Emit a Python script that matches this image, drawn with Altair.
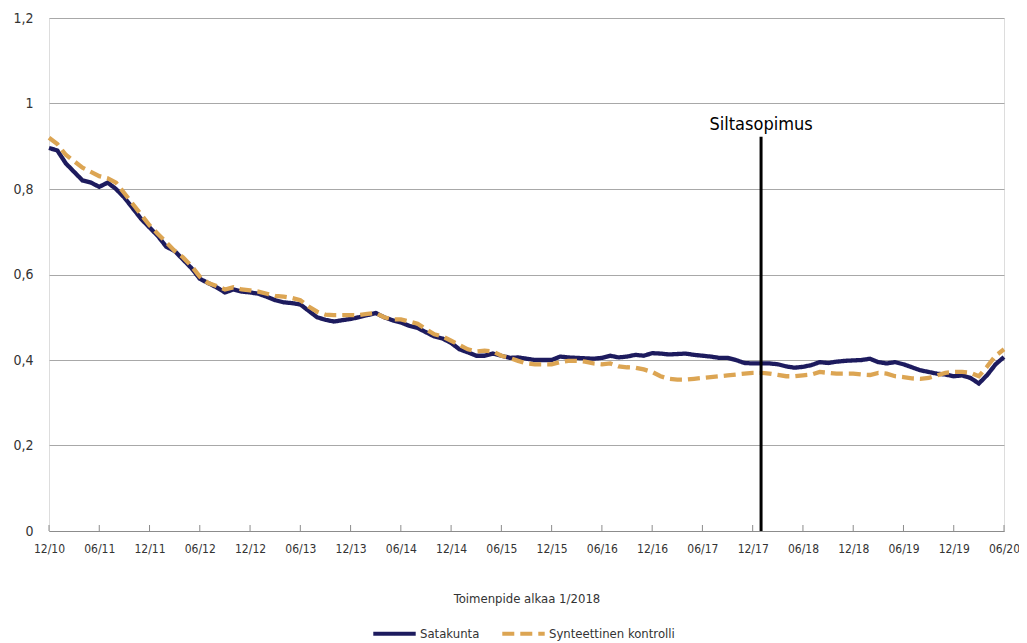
import altair as alt
import pandas as pd

# month index 0 = 12/2010 ... 114 = 06/2020
satakunta = [
    0.896, 0.89, 0.86, 0.84, 0.82, 0.815, 0.805, 0.815, 0.80, 0.78,
    0.755, 0.73, 0.71, 0.69, 0.665, 0.655, 0.635, 0.615, 0.59, 0.58,
    0.57, 0.558, 0.565, 0.56, 0.558, 0.555, 0.548, 0.54, 0.535, 0.533,
    0.53, 0.515, 0.50, 0.494, 0.49, 0.493, 0.496, 0.50, 0.505, 0.51,
    0.50, 0.493, 0.488, 0.48, 0.475, 0.465, 0.455, 0.45, 0.44, 0.425,
    0.418, 0.41, 0.41, 0.415, 0.41, 0.405, 0.406, 0.403, 0.40, 0.40,
    0.40, 0.408, 0.406, 0.405, 0.404, 0.403, 0.405, 0.41, 0.406, 0.408,
    0.412, 0.41, 0.416, 0.415, 0.413, 0.414, 0.415, 0.412, 0.41, 0.408,
    0.405, 0.405, 0.40, 0.393, 0.392, 0.392, 0.392, 0.39, 0.385, 0.382,
    0.384, 0.388, 0.395, 0.393, 0.396, 0.398, 0.399, 0.40, 0.403, 0.395,
    0.392, 0.395, 0.39, 0.383, 0.376, 0.372, 0.368, 0.366, 0.362, 0.364,
    0.358, 0.345, 0.365, 0.39, 0.407,
]
synteettinen = [
    0.92, 0.905, 0.88, 0.865, 0.85, 0.84, 0.83, 0.825, 0.815, 0.79,
    0.765, 0.74, 0.715, 0.695, 0.675, 0.655, 0.64, 0.62, 0.595, 0.58,
    0.573, 0.565, 0.57, 0.565, 0.563, 0.56, 0.555, 0.55, 0.548, 0.545,
    0.54, 0.525, 0.513, 0.506, 0.505, 0.505, 0.505, 0.505, 0.508, 0.51,
    0.50, 0.495, 0.495, 0.49, 0.485, 0.472, 0.46, 0.455, 0.445, 0.435,
    0.425, 0.42, 0.422, 0.42, 0.41, 0.405, 0.398, 0.392, 0.39, 0.39,
    0.39, 0.395, 0.398, 0.398, 0.396, 0.392, 0.39, 0.392, 0.385, 0.383,
    0.382, 0.378, 0.372, 0.362, 0.356, 0.354, 0.354, 0.356, 0.358, 0.36,
    0.362, 0.364, 0.366, 0.368, 0.37, 0.37, 0.368, 0.365, 0.362, 0.362,
    0.364, 0.366, 0.372, 0.37, 0.368, 0.368, 0.368, 0.366, 0.365, 0.37,
    0.368, 0.362, 0.36, 0.357, 0.356, 0.358, 0.364, 0.37, 0.372, 0.372,
    0.37, 0.362, 0.385, 0.41, 0.425,
]
tick_labels = ["12/10", "06/11", "12/11", "06/12", "12/12", "06/13", "12/13",
               "06/14", "12/14", "06/15", "12/15", "06/16", "12/16", "06/17",
               "12/17", "06/18", "12/18", "06/19", "12/19", "06/20"]
series_names = ["Satakunta", "Synteettinen kontrolli"]
event_month = [85]
event_label = ["Siltasopimus"]
event_top = [0.922]

rows = []
for i, v in enumerate(satakunta):
    rows.append({"m": i, "v": v, "s": series_names[0]})
for i, v in enumerate(synteettinen):
    rows.append({"m": i, "v": v, "s": series_names[1]})
df = pd.DataFrame(rows)
ticks_df = pd.DataFrame({"m": [i * 6 for i in range(len(tick_labels))]})
ev_df = pd.DataFrame({"m": event_month, "top": event_top, "label": event_label, "zero": [0]})

FONT = "DejaVu Sans Condensed, Liberation Sans, sans-serif"
W, H = 955, 513
label_expr = "[" + ",".join(f"'{l}'" for l in tick_labels) + "][round(datum.value/6)]"

xscale = alt.Scale(domain=[0, 114], nice=False, zero=False)
yscale = alt.Scale(domain=[0, 1.2], nice=False)

lines = alt.Chart(df).mark_line(strokeWidth=4.3, strokeCap="butt").encode(
    x=alt.X("m:Q", scale=xscale,
            axis=alt.Axis(values=[i * 6 for i in range(len(tick_labels))], labelExpr=label_expr,
                          title="Toimenpide alkaa 1/2018", grid=False, ticks=False,
                          labelFlush=False, labelOverlap=False,
                          domainColor="#8c8c8c", domainWidth=1.2,
                          labelFont=FONT, labelFontSize=12, labelColor="#333333",
                          labelPadding=12, titleFont=FONT, titleFontSize=13,
                          titleFontWeight="normal", titleColor="#333333", titlePadding=38)),
    y=alt.Y("v:Q", scale=yscale,
            axis=alt.Axis(values=[0, 0.2, 0.4, 0.6, 0.8, 1, 1.2],
                          labelExpr="replace(format(datum.value, '~g'), '.', ',')",
                          title=None, domain=False, ticks=False, gridColor="#a8a8a8",
                          gridWidth=1, labelFont=FONT, labelFontSize=14,
                          labelColor="#333333", labelPadding=16)),
    color=alt.Color("s:N", scale=alt.Scale(domain=series_names, range=["#1d1b5e", "#dca553"]),
                    legend=alt.Legend(title=None, orient="none", legendX=322, legendY=592,
                                      direction="horizontal", symbolType="stroke",
                                      symbolSize=1800, symbolStrokeWidth=4, padding=0,
                                      labelFont=FONT, labelFontSize=13, labelColor="#333333",
                                      labelOffset=2, columnPadding=14)),
    strokeDash=alt.StrokeDash("s:N", scale=alt.Scale(domain=series_names, range=[[1, 0], [12, 6]]),
                              legend=None),
    order=alt.Order("s:N"),
)

xticks = alt.Chart(ticks_df).mark_rule(color="#8c8c8c", strokeWidth=1).encode(
    x=alt.X("m:Q", scale=xscale),
    y=alt.value(H),
    y2=alt.value(H - 6),
)

event_rule = alt.Chart(ev_df).mark_rule(color="#000000", strokeWidth=3).encode(
    x=alt.X("m:Q", scale=xscale),
    y=alt.Y("zero:Q", scale=yscale),
    y2="top:Q",
)
event_text = alt.Chart(ev_df).mark_text(font=FONT, fontSize=18, color="#000000",
                                         baseline="bottom", dy=-3).encode(
    x=alt.X("m:Q", scale=xscale),
    y=alt.Y("top:Q", scale=yscale),
    text="label:N",
)

chart = alt.layer(xticks, lines, event_rule, event_text).properties(
    width=W, height=H,
    autosize=alt.AutoSizeParams(type="none"),
    padding={"left": 41, "top": 10, "right": 15, "bottom": 112},
).configure_view(stroke=None).configure(background="#ffffff")

chart.save("out.html", embed_options={"renderer": "svg", "actions": False})
